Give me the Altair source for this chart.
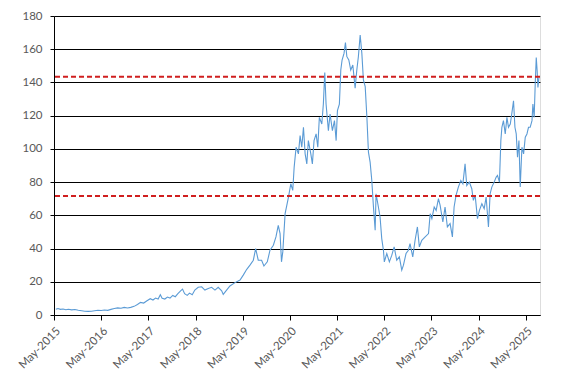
import altair as alt
import pandas as pd

# ---- data ----
dates = [
    "2015-05-15", "2015-06-01", "2015-06-20", "2015-07-10", "2015-08-01", "2015-08-20",
    "2015-09-15", "2015-10-10", "2015-11-05", "2015-12-01", "2015-12-25", "2016-01-20",
    "2016-02-15", "2016-03-10", "2016-04-05", "2016-05-01", "2016-05-25", "2016-06-20",
    "2016-07-15", "2016-08-10", "2016-09-05", "2016-10-01", "2016-10-25", "2016-11-20",
    "2016-12-15", "2017-01-10", "2017-02-05", "2017-03-01", "2017-03-25", "2017-04-20",
    "2017-05-15", "2017-06-05", "2017-06-25", "2017-07-15", "2017-08-01", "2017-08-15",
    "2017-09-05", "2017-09-25", "2017-10-15", "2017-11-05", "2017-11-25", "2017-12-15",
    "2018-01-05", "2018-01-20", "2018-02-05", "2018-02-25", "2018-03-15", "2018-04-05",
    "2018-04-25", "2018-05-21", "2018-06-17", "2018-07-12", "2018-08-07", "2018-09-02",
    "2018-09-28", "2018-10-23", "2018-11-19", "2018-12-01", "2018-12-27", "2019-01-22",
    "2019-03-02", "2019-04-10", "2019-05-05", "2019-06-01", "2019-06-26", "2019-07-22",
    "2019-08-09", "2019-08-29", "2019-09-24", "2019-10-12", "2019-11-07", "2019-11-28",
    "2019-12-24", "2020-01-13", "2020-01-31", "2020-02-14", "2020-02-25", "2020-03-06",
    "2020-03-24", "2020-04-19", "2020-05-07", "2020-05-22", "2020-06-02", "2020-06-17",
    "2020-07-05", "2020-07-18", "2020-07-31", "2020-08-13", "2020-08-26", "2020-09-08",
    "2020-09-20", "2020-10-09", "2020-10-21", "2020-11-03", "2020-11-19", "2020-12-02",
    "2020-12-14", "2021-01-02", "2021-01-14", "2021-01-25", "2021-02-04", "2021-02-22",
    "2021-03-07", "2021-03-25", "2021-04-10", "2021-04-23", "2021-05-03", "2021-05-18",
    "2021-05-29", "2021-06-08", "2021-06-23", "2021-07-04", "2021-07-15", "2021-07-30",
    "2021-08-14", "2021-08-30", "2021-09-17", "2021-09-30", "2021-10-12", "2021-10-26",
    "2021-11-08", "2021-11-20", "2021-12-04", "2021-12-17", "2021-12-29", "2022-01-11",
    "2022-01-24", "2022-02-05", "2022-02-19", "2022-02-26", "2022-03-16", "2022-03-29",
    "2022-04-11", "2022-04-24", "2022-05-01", "2022-05-20", "2022-06-09", "2022-06-28",
    "2022-07-16", "2022-08-05", "2022-08-25", "2022-09-13", "2022-09-26", "2022-10-16",
    "2022-11-03", "2022-11-16", "2022-12-07", "2022-12-25", "2023-01-12", "2023-01-27",
    "2023-02-15", "2023-03-13", "2023-04-08", "2023-04-21", "2023-05-04", "2023-05-22",
    "2023-06-06", "2023-06-24", "2023-07-07", "2023-07-28", "2023-08-14", "2023-09-01",
    "2023-09-22", "2023-10-10", "2023-10-23", "2023-11-07", "2023-11-25", "2023-12-14",
    "2023-12-30", "2024-01-16", "2024-01-29", "2024-02-18", "2024-03-08", "2024-03-20",
    "2024-04-03", "2024-04-21", "2024-05-06", "2024-05-25", "2024-06-12", "2024-06-27",
    "2024-07-15", "2024-07-28", "2024-08-10", "2024-08-28", "2024-09-13", "2024-09-23",
    "2024-10-08", "2024-10-19", "2024-10-27", "2024-11-08", "2024-11-22", "2024-12-05",
    "2024-12-17", "2024-12-31", "2025-01-13", "2025-01-25", "2025-02-05", "2025-02-15",
    "2025-02-25", "2025-03-08", "2025-03-18", "2025-03-31", "2025-04-13", "2025-04-26",
    "2025-05-09", "2025-05-21", "2025-06-03", "2025-06-17", "2025-06-24", "2025-07-04",
    "2025-07-12", "2025-07-20", "2025-07-27", "2025-08-02", "2025-08-10",
]
prices = [
    3.4, 3.9, 3.4, 3.6, 3.2, 3.5,
    3.1, 3.3, 2.9, 2.6, 2.3, 2.2,
    2.3, 2.6, 2.9, 2.7, 3.0, 2.8,
    3.4, 3.9, 4.3, 4.1, 4.6, 4.2,
    4.6, 5.2, 6.3, 7.6, 7.2, 8.6,
    9.8, 9.0, 10.2, 9.6, 12.2, 10.1,
    9.6, 10.8, 10.2, 11.8, 11.0, 12.8,
    14.5, 15.6, 12.8, 11.8, 13.2, 12.2,
    15.0, 16.7, 17.0, 15.0, 16.0, 16.7,
    15.0, 16.7, 14.6, 12.4, 15.0, 17.5,
    19.5, 21.0, 24.0, 27.5, 30.0, 33.0,
    40.0, 33.0, 33.0, 29.5, 32.0, 39.0,
    42.0, 47.0, 54.0, 49.0, 32.0, 38.0,
    61.0, 71.0, 79.0, 75.0, 89.0, 101.0,
    97.0, 108.0, 101.0, 113.0, 97.0, 91.0,
    105.0, 97.0, 91.0, 105.0, 109.0, 101.0,
    119.0, 115.0, 127.0, 146.0, 127.0, 111.0,
    121.0, 111.0, 117.0, 105.0, 123.0, 127.0,
    147.5, 153.5, 157.5, 164.0, 155.5, 153.5,
    147.5, 150.5, 136.5, 147.5, 155.5, 168.6,
    157.5, 141.5, 137.5, 119.0, 98.0, 92.0,
    81.0, 66.0, 51.0, 73.0, 65.0, 59.0,
    46.0, 39.0, 32.0, 37.0, 32.0, 36.0,
    41.0, 33.0, 35.0, 27.0, 30.0, 37.0,
    39.0, 43.0, 35.0, 45.0, 53.0, 41.0,
    45.0, 47.0, 49.0, 61.0, 58.0, 65.0,
    63.0, 70.0, 66.0, 56.0, 65.0, 53.0,
    55.0, 47.0, 65.0, 72.0, 77.0, 81.0,
    79.0, 91.0, 78.0, 80.0, 76.0, 69.0,
    72.0, 58.0, 63.0, 67.0, 64.0, 71.0,
    53.0, 73.0, 77.0, 80.0, 83.0, 84.0,
    80.0, 105.0, 113.0, 117.0, 109.0, 119.0,
    113.0, 115.0, 122.0, 129.0, 113.0, 109.0,
    95.0, 105.0, 77.0, 101.0, 97.0, 107.0,
    109.0, 113.0, 113.0, 117.0, 127.0, 119.0,
    139.0, 155.0, 147.0, 137.0, 143.0,
]
band_levels = [143.4, 71.7]
tick_years = list(range(2015, 2026))
y_ticks = list(range(0, 181, 20))

df = pd.DataFrame({"date": dates, "price": prices})
levels = pd.DataFrame({"level": band_levels})

label_font = "Lato"
label_color = "#595959"

x_scale = alt.Scale(
    type="utc",
    domain=[alt.DateTime(year=2015, month=5, date=1, utc=True),
            alt.DateTime(year=2025, month=8, date=18, utc=True)],
)
y_scale = alt.Scale(domain=[0, 180], nice=False)

x_axis = alt.Axis(
    values=[alt.DateTime(year=y, month=5, date=1, utc=True) for y in tick_years],
    labelExpr="utcFormat(datum.value, '%b-%Y')",
    labelAngle=-45,
    labelAlign="right",
    labelBaseline="top",
    labelPadding=5,
    labelFont=label_font,
    labelFontSize=11.5,
    labelColor=label_color,
    labelOverlap=False,
    tickSize=5,
    tickColor="black",
    domainColor="black",
    grid=False,
    title=None,
)
y_axis = alt.Axis(
    values=y_ticks,
    labelFont=label_font,
    labelFontSize=11.5,
    labelColor=label_color,
    labelPadding=8,
    labelOverlap=False,
    tickSize=4,
    tickColor="black",
    domainColor="black",
    grid=True,
    gridColor="black",
    gridOpacity=1,
    gridWidth=1,
    title=None,
)

line = alt.Chart(df).mark_line(color="#5B9BD5", strokeWidth=1.1, clip=True).encode(
    x=alt.X("date:T", scale=x_scale, axis=x_axis),
    y=alt.Y("price:Q", scale=y_scale, axis=y_axis),
)

rules = alt.Chart(levels).mark_rule(
    color="#D01F1F", strokeDash=[5, 3], strokeWidth=2
).encode(y=alt.Y("level:Q", scale=y_scale, axis=y_axis))

chart = (
    alt.layer(line, rules)
    .resolve_axis(y="shared")
    .properties(
        width=486,
        height=299,
        autosize=alt.AutoSizeParams(type="none"),
        padding={"left": 46, "top": 8, "right": 19, "bottom": 60},
    )
    .configure_view(stroke="black", strokeWidth=1)
    .configure(background="white")
)

chart.save("out.html", embed_options={"renderer": "svg", "actions": False})
